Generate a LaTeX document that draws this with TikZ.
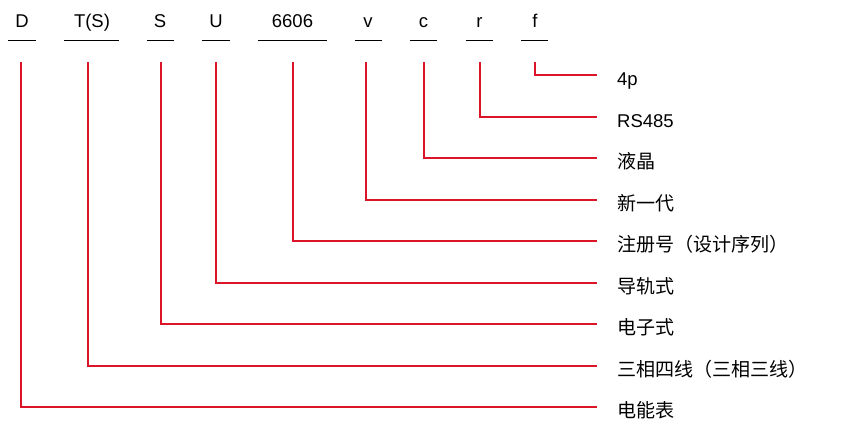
\documentclass[tikz,border=0pt]{standalone}
\usepackage{fontspec}
\setmainfont{Liberation Sans}
\newfontfamily\cjk{Noto Sans CJK SC}[Scale=1.03]
\definecolor{lred}{RGB}{220,20,40}
\begin{document}
\begin{tikzpicture}[x=1pt,y=-1pt,
  code/.style={anchor=base,inner sep=0pt,font=\fontsize{18.5}{18.5}\selectfont},
  lab/.style={anchor=base west,inner sep=0pt,font=\fontsize{18.5}{18.5}\selectfont},
  uline/.style={draw=black,line width=1pt},
  conn/.style={draw=lred,line width=1.5pt}]
\useasboundingbox (0,0) rectangle (843,431);
% code letters and underlines
\foreach \n/\cx/\xl/\xr/\t in {cD/22/8/36/D, cT/92/64/119/T(S), cS/160/147/174/S, cU/216/202/230/U, cN/292.5/258/327/6606, cv/368/355/382/v, cc/423.5/410/437/c, cr/479.5/466/493/r, cf/535/521/548/f}{
  \node[code] (\n) at (\cx,27.3) {\t};
  \coordinate (\n l) at (\xl,40);
  \coordinate (\n r) at (\xr,40);
  \draw[uline] (\n l) -- (\n r);
}
% labels
\foreach \n/\y/\t in {lf/75/4p, lr/117/RS485, lc/158/\cjk 液晶, lv/200/\cjk 新一代, lN/241/\cjk 注册号（设计序列）, lU/283/\cjk 导轨式, lS/324/\cjk 电子式, lT/366/\cjk 三相四线（三相三线）, lD/407/\cjk 电能表}{
  \node[lab] (\n) at (617,{\y+10.3}) {\t};
  \coordinate (\n e) at (597,\y);
}
% connectors
\foreach \c/\l/\x in {cf/lf/535, cr/lr/480, cc/lc/424, cv/lv/366, cN/lN/293, cU/lU/216, cS/lS/161, cT/lT/88, cD/lD/21}{
  \coordinate (\c s) at (\x,62);
  \draw[conn] (\c s) |- (\l e);
}
\end{tikzpicture}
\end{document}
